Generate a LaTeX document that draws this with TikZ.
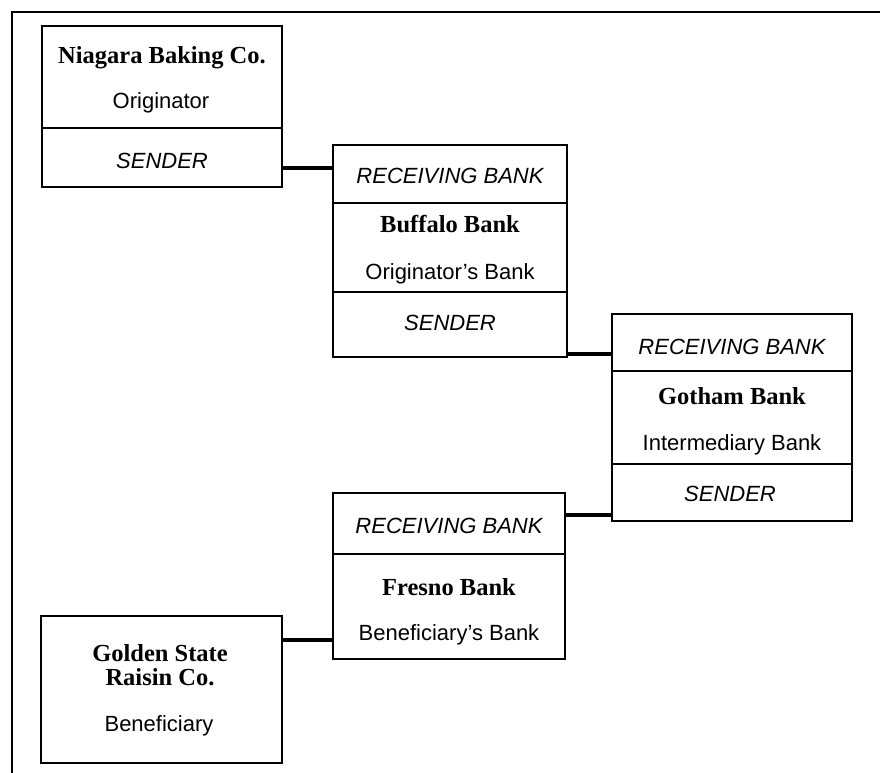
\documentclass[tikz,border=0pt]{standalone}
\usepackage{fontspec}
\setmainfont{Liberation Serif}
\setsansfont{Liberation Sans}
\begin{document}
\begin{tikzpicture}[x=1pt,y=-1pt,
  sec/.style={draw, line width=2.5pt, anchor=north west, inner sep=0pt, outer sep=0pt},
  txt/.style={inner sep=0pt, text height=16pt, text depth=0pt, anchor=center},
  nm/.style={txt, font=\fontsize{24.5}{24.5}\selectfont\bfseries\rmfamily},
  role/.style={txt, font=\fontsize{22}{22}\selectfont\sffamily},
  tag/.style={txt, font=\fontsize{22}{22}\selectfont\sffamily\itshape},
  conn/.style={line width=4pt},
  frame/.style={line width=2.5pt}]
\useasboundingbox (0,0) rectangle (880,773);
% outer frame
\coordinate (fa) at (12,773);
\coordinate (fb) at (12,12);
\coordinate (fc) at (880,12);
\draw[frame] (fa) -- (fb) -- (fc);

% Box 1: Niagara Baking Co.
\node[sec, minimum width=240pt, minimum height=102pt] (n1a) at (42,26) {};
\node[sec, minimum width=240pt, minimum height=59pt] (n1b) at (42,128) {};
\node[nm] (t1a) at (162,56) {Niagara Baking Co.};
\node[role] (t1b) at (161,100.5) {Originator};
\node[tag] (t1c) at (162,160) {SENDER};

% Box 2: Buffalo Bank
\node[sec, minimum width=234pt, minimum height=58pt] (n2a) at (333,145) {};
\node[sec, minimum width=234pt, minimum height=89pt] (n2b) at (333,203) {};
\node[sec, minimum width=234pt, minimum height=65pt] (n2c) at (333,292) {};
\node[tag] (t2a) at (450,175.5) {RECEIVING BANK};
\node[nm] (t2b) at (450,224.5) {Buffalo Bank};
\node[role] (t2c) at (450,271) {Originator's Bank};
\node[tag] (t2d) at (450,322.5) {SENDER};

% Box 3: Gotham Bank
\node[sec, minimum width=240pt, minimum height=57pt] (n3a) at (612,314) {};
\node[sec, minimum width=240pt, minimum height=93pt] (n3b) at (612,371) {};
\node[sec, minimum width=240pt, minimum height=57pt] (n3c) at (612,464) {};
\node[tag] (t3a) at (732,346) {RECEIVING BANK};
\node[nm] (t3b) at (732,396.5) {Gotham Bank};
\node[role] (t3c) at (732,442) {Intermediary Bank};
\node[tag] (t3d) at (730,493) {SENDER};

% Box 4: Fresno Bank
\node[sec, minimum width=232pt, minimum height=61pt] (n4a) at (333,493) {};
\node[sec, minimum width=232pt, minimum height=105pt] (n4b) at (333,554) {};
\node[tag] (t4a) at (449,525.5) {RECEIVING BANK};
\node[nm] (t4b) at (449,587) {Fresno Bank};
\node[role] (t4c) at (449,632) {Beneficiary's Bank};

% Box 5: Golden State Raisin Co.
\node[sec, minimum width=241pt, minimum height=147pt] (n5) at (41,616) {};
\node[nm] (t5a) at (160,653) {Golden State};
\node[nm] (t5b) at (160,677.5) {Raisin Co.};
\node[role] (t5c) at (159,723.5) {Beneficiary};

% connectors
\path ([yshift=6pt]n2a.west) coordinate (c1);
\draw[conn] (c1 -| n1b.east) -- (c1);
\path ([yshift=-11.5pt]n3a.west) coordinate (c2);
\draw[conn] (c2 -| n2c.east) -- (c2);
\path ([yshift=-22.5pt]n3c.west) coordinate (c3);
\draw[conn] (c3) -- (c3 -| n4a.east);
\path ([yshift=-33.5pt]n4b.west) coordinate (c4);
\draw[conn] (c4 -| n5.east) -- (c4);
\end{tikzpicture}
\end{document}
